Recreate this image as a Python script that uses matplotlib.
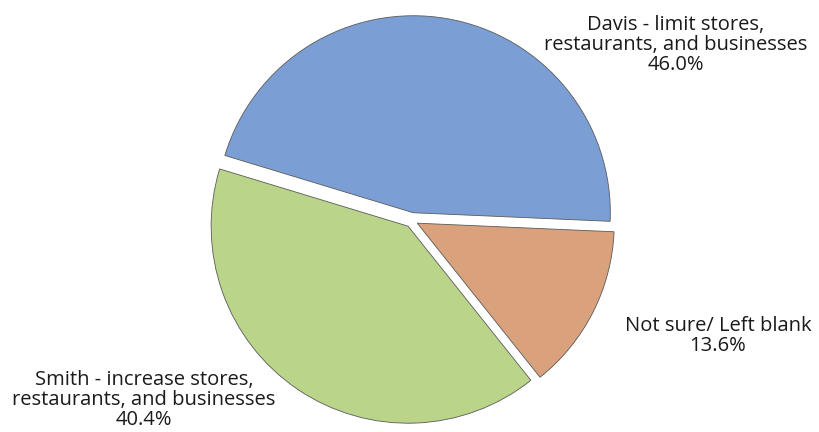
import matplotlib
matplotlib.use('Agg')
import matplotlib.pyplot as plt

# vote shares, drawn counterclockwise from just below the 3 o'clock position
labels = ["Davis - limit stores,\nrestaurants, and businesses",
          "Smith - increase stores,\nrestaurants, and businesses",
          "Not sure/ Left blank"]
shares = [46.0, 40.4, 13.6]
colors = ["#7B9FD4", "#BAD48A", "#D9A17C"]
explode = [0.04, 0.035, 0.03]

plt.rcParams['font.family'] = ['Open Sans', 'DejaVu Sans']

W, H = 819, 432
cx, cy, r = 412, 220.5, 197   # pie centre and radius in pixels (y from top)

fig = plt.figure(figsize=(W / 100, H / 100), dpi=100)
ax = fig.add_axes([0, 0, 1, 1])

ax.pie(shares, colors=colors, explode=explode, startangle=-2.5,
       counterclock=True,
       wedgeprops=dict(edgecolor="#5a5a5a", linewidth=0.6))

ax.set_xlim(-cx / r, (W - cx) / r)
ax.set_ylim(-(H - cy) / r, cy / r)
ax.set_aspect('equal')
ax.axis('off')

# label text centres, in pixels from the top-left corner
label_px = [(676, 45), (144, 400), (718, 336)]
for lab, val, (px, py) in zip(labels, shares, label_px):
    ax.text((px - cx) / r, (cy - py) / r, "%s\n%.1f%%" % (lab, val),
            ha='center', va='center', fontsize=14.5, color='#1a1a1a',
            linespacing=1.0)

fig.savefig("out.png", dpi=100, facecolor='white')
